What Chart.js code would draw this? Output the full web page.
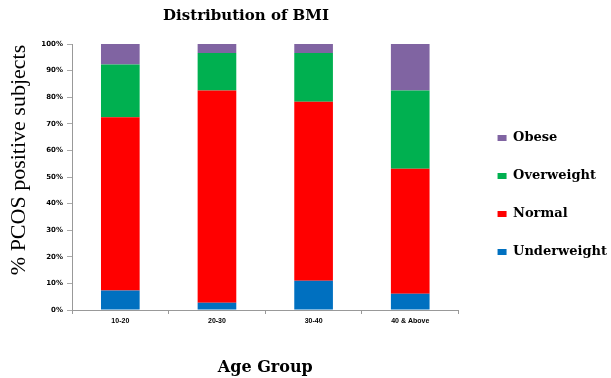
<!DOCTYPE html>
<html>
<head>
<meta charset="utf-8">
<script src="https://cdn.jsdelivr.net/npm/chart.js@4.4.1/dist/chart.umd.min.js"></script>
<style>
  html, body { margin: 0; padding: 0; background: #ffffff; }
  #wrap { width: 611px; height: 378px; }
</style>
</head>
<body>
<div id="wrap"><canvas id="c" width="611" height="378"></canvas></div>
<script>
// Age groups and the share (%) of PCOS-positive subjects in each BMI class
const ageGroups   = ['10-20', '20-30', '30-40', '40 & Above'];
const underweight = [7.3, 2.7, 11.0, 6.1];
const normal      = [65.2, 79.8, 67.3, 47.0];
const overweight  = [19.8, 14.1, 18.3, 29.4];
const obese       = [7.7, 3.4, 3.4, 17.5];
const yTicks      = [0, 10, 20, 30, 40, 50, 60, 70, 80, 90, 100];

const serif     = '"Liberation Serif", "Times New Roman", serif';
const wideSerif = '"DejaVu Serif", serif';
const sans      = '"Liberation Sans", Arial, sans-serif';
const wideSans  = '"DejaVu Sans", sans-serif';

// Heading and the rotated y-axis caption
const captionsPlugin = {
  id: 'captions',
  afterDraw(chart) {
    const ctx = chart.ctx;
    ctx.save();
    ctx.fillStyle = '#000';
    ctx.textAlign = 'center';
    ctx.textBaseline = 'middle';
    ctx.font = 'bold 15px ' + wideSerif;
    ctx.fillText('Distribution of BMI', 246, 16);
    ctx.translate(19, 160);
    ctx.rotate(-Math.PI / 2);
    ctx.font = '22px ' + serif;
    ctx.fillText('% PCOS positive subjects', 0, 0);
    ctx.restore();
  }
};

// Nudge the legend block into the free space right of the plot
const legendPlacePlugin = {
  id: 'legendPlace',
  afterLayout(chart) {
    const lg = chart.legend;
    if (!lg) return;
    lg.left += 14; lg.right += 14;
    lg.top -= 16; lg.bottom -= 16;
  }
};

new Chart(document.getElementById('c'), {
  type: 'bar',
  data: {
    labels: ageGroups,
    datasets: [
      { label: 'Underweight', data: underweight, backgroundColor: '#0070C0' },
      { label: 'Normal',      data: normal,      backgroundColor: '#FF0000' },
      { label: 'Overweight',  data: overweight,  backgroundColor: '#00B050' },
      { label: 'Obese',       data: obese,       backgroundColor: '#8064A2' }
    ]
  },
  options: {
    responsive: false,
    animation: false,
    devicePixelRatio: 1,
    layout: { padding: { left: 3, top: 44, right: 8, bottom: 0 } },
    datasets: { bar: { barPercentage: 0.4, categoryPercentage: 1.0, borderWidth: 0 } },
    plugins: {
      title: { display: false },
      tooltip: { enabled: false },
      legend: {
        position: 'right',
        reverse: true,
        labels: {
          boxWidth: 9,
          boxHeight: 6,
          padding: 25,
          color: '#000',
          font: { family: wideSerif, size: 13, weight: 'bold' }
        }
      }
    },
    scales: {
      x: {
        stacked: true,
        afterFit(scale) { scale.height = 68; },
        grid: { display: true, drawOnChartArea: false, drawTicks: true, tickLength: 4, color: '#999', offset: true },
        border: { display: true, color: '#999' },
        ticks: { color: '#000', padding: 3, font: { family: sans, size: 7, weight: 'bold' } },
        title: {
          display: true,
          text: 'Age Group',
          color: '#000',
          padding: { top: 0, bottom: 1 },
          font: { family: wideSerif, size: 16, weight: 'bold' }
        }
      },
      y: {
        stacked: true,
        min: 0,
        max: 100,
        afterFit(scale) { scale.width = 69; },
        afterBuildTicks(scale) { scale.ticks = yTicks.map(v => ({ value: v })); },
        grid: { display: true, drawOnChartArea: false, drawTicks: true, tickLength: 5, color: '#aaa' },
        border: { display: true, color: '#999' },
        ticks: {
          color: '#000',
          padding: 4,
          font: { family: wideSans, size: 7, weight: 'bold' },
          callback: v => v + '%'
        }
      }
    }
  },
  plugins: [captionsPlugin, legendPlacePlugin]
});
</script>
</body>
</html>
